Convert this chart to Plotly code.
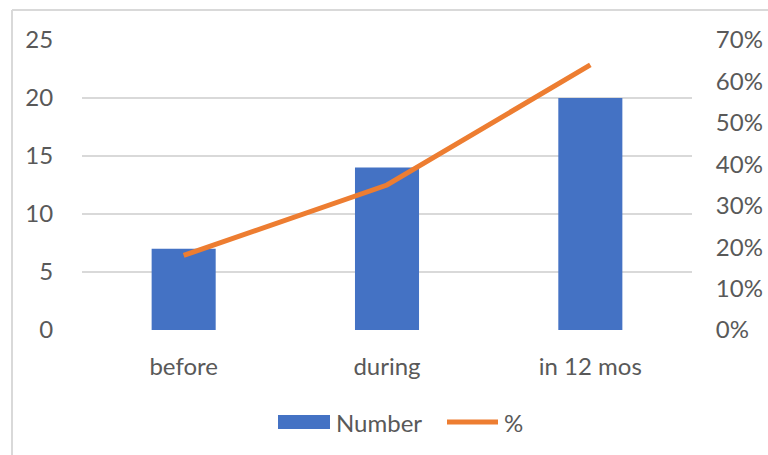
import plotly.graph_objects as go

categories = ["before", "during", "in 12 mos"]
number = [7, 14, 20]
percent = [0.18, 0.35, 0.64]

left_ticks = [0, 5, 10, 15, 20, 25]
right_ticks = [0, 0.1, 0.2, 0.3, 0.4, 0.5, 0.6, 0.7]
right_labels = ["0%", "10%", "20%", "30%", "40%", "50%", "60%", "70%"]

BLUE = "#4472C4"
ORANGE = "#ED7D31"
GRID = "#D9D9D9"
TEXT = "#595959"
FONT = "Lato"

W, H = 768, 455
L, R, T, B = 82, 76, 40, 125
pw, ph = W - L - R, H - T - B


def px(x):
    return (x - L) / pw


def py(y):
    return (H - B - y) / ph


fig = go.Figure()
fig.add_trace(go.Bar(x=categories, y=number, name="Number",
                     marker=dict(color=BLUE, line=dict(width=0)),
                     yaxis="y", showlegend=False))
fig.add_trace(go.Scatter(x=categories, y=percent, name="%", mode="lines",
                         line=dict(color=ORANGE, width=5),
                         yaxis="y2", showlegend=False))

fig.update_layout(
    width=W, height=H,
    margin=dict(l=L, r=R, t=T, b=B, autoexpand=False),
    paper_bgcolor="white", plot_bgcolor="white",
    font=dict(family=FONT, size=24, color=TEXT),
    bargap=0.685,
    xaxis=dict(showgrid=False, showline=False, zeroline=False,
               automargin=False,
               ticks="outside", ticklen=15, tickcolor="rgba(0,0,0,0)",
               tickfont=dict(size=24, color=TEXT)),
    yaxis=dict(range=[0, 25], tickvals=left_ticks, showgrid=True,
               automargin=False,
               gridcolor=GRID, gridwidth=1.5, zeroline=False, showline=False,
               ticks="outside", ticklen=23, tickcolor="rgba(0,0,0,0)",
               tickfont=dict(size=24, color=TEXT)),
    yaxis2=dict(range=[0, 0.7], tickvals=right_ticks, ticktext=right_labels,
                overlaying="y", side="right", showgrid=False, zeroline=False,
                automargin=False,
                showline=False, ticks="outside", ticklen=18,
                tickcolor="rgba(0,0,0,0)",
                tickfont=dict(size=24, color=TEXT)),
    showlegend=False,
)

# chart-area border (left and top edges)
fig.add_shape(type="line", xref="paper", yref="paper",
              x0=px(12), x1=px(12), y0=py(10), y1=py(470),
              line=dict(color=GRID, width=2))
fig.add_shape(type="line", xref="paper", yref="paper",
              x0=px(12), x1=px(780), y0=py(10), y1=py(10),
              line=dict(color=GRID, width=2))

# legend
fig.add_shape(type="rect", xref="paper", yref="paper",
              x0=px(278), x1=px(330), y0=py(429), y1=py(415),
              fillcolor=BLUE, line=dict(width=0))
fig.add_shape(type="line", xref="paper", yref="paper",
              x0=px(447), x1=px(498), y0=py(422), y1=py(422),
              line=dict(color=ORANGE, width=5))
fig.add_annotation(xref="paper", yref="paper", x=px(334), y=py(422),
                   text="Number", showarrow=False, xanchor="left",
                   yanchor="middle", font=dict(size=24, color=TEXT))
fig.add_annotation(xref="paper", yref="paper", x=px(502), y=py(422),
                   text="%", showarrow=False, xanchor="left",
                   yanchor="middle", font=dict(size=24, color=TEXT))

fig.write_html("out.html")
